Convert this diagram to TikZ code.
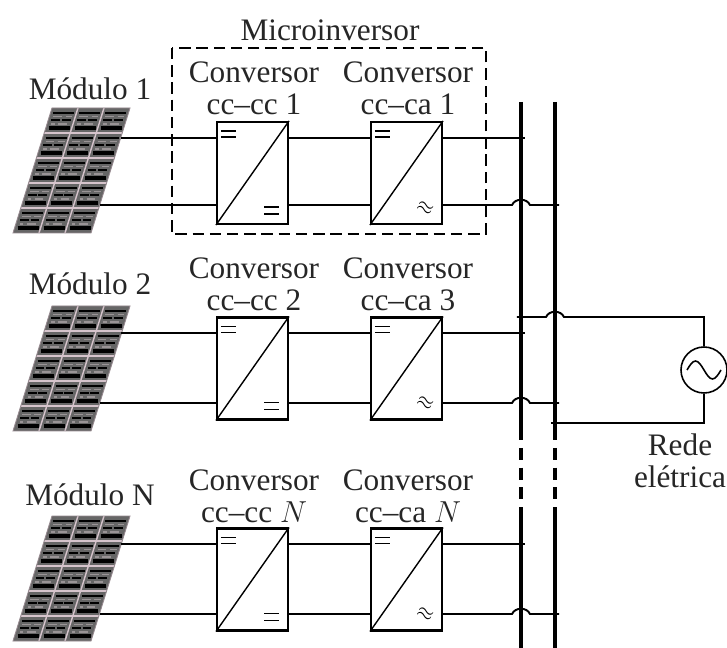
\documentclass[tikz,border=0pt]{standalone}
\usepackage{fontspec}
\setmainfont{Liberation Serif}
\usepackage{tikz}
\definecolor{celula}{HTML}{D6C4CC}
\tikzset{
  rotulo/.style={font=\fontsize{17.8}{18}\selectfont, text=black!85, inner sep=0pt, align=center},
  fio/.style={line width=1.1pt},
  barra/.style={line width=2.3pt},
  conv/.style={draw, line width=1.2pt, minimum width=1.42cm, minimum height=2.04cm, inner sep=0pt},
  fonte/.style={draw, circle, line width=0.9pt, minimum size=0.92cm, inner sep=0pt, fill=white},
  tijolo/.style={gray!70!celula, line width=.8pt},
}
\begin{document}
\begin{tikzpicture}[x=0.02cm, y=-0.02cm, >=stealth]
  \path[use as bounding box, fill=white] (0,0) rectangle (727,648);
  % barramentos
  \coordinate (b1) at (521,102);
  \coordinate (b2) at (555,102);
  \coordinate (b1q) at (521,440);
  \coordinate (b2q) at (555,440);
  \coordinate (b1r) at (521,508);
  \coordinate (b2r) at (555,508);
  \coordinate (b1f) at (521,648);
  \coordinate (b2f) at (555,648);
  % modulos, conversores e fios
  \foreach \i/\ctxt/\atxt/\yp/\yc/\ya/\yb/\yl/\ym in {
      1/1/1/108/173/138/205/72/89,
      2/2/3/306/368.5/333/403/268/284,
      3/$N$/$N$/516/579.5/544/614/480/495} {
    \begin{scope}[shift={(52,\yp)}, xslant=.312]
      \fill[black!60] (0,0) rectangle (78,125);
      \foreach \c in {0,1,2} \foreach \r in {0,...,4} {
        \draw[black, line width=1.7pt] (\c*26+3,\r*25+5) -- (\c*26+24,\r*25+5);
        \draw[black, line width=1.7pt, dash pattern=on 5pt off 1pt] (\c*26+3,\r*25+12) -- (\c*26+24,\r*25+12);
        \draw[black, line width=1.9pt] (\c*26+3,\r*25+20) -- (\c*26+24,\r*25+20);
        \draw[tijolo, dash pattern=on 5pt off 2pt] (\c*26+4,\r*25+8.5) -- (\c*26+23,\r*25+8.5);
        \draw[tijolo, dash pattern=on 2pt off 2pt on 5pt off 2pt] (\c*26+4,\r*25+16) -- (\c*26+23,\r*25+16);
      }
      \foreach \c in {26,52} \draw[celula, line width=.8pt] (\c,0) -- (\c,125);
      \foreach \r in {25,50,75,100} \draw[celula, line width=.8pt] (0,\r) -- (78,\r);
      \draw[celula!70!black, line width=.5pt] (0,0) rectangle (78,125);
    \end{scope}
    \coordinate (m\i a) at (121,\ya);
    \coordinate (m\i b) at (100,\yb);
    \node[rotulo] (mod\i) at (90,\ym) {Módulo \ifnum\i=3 N\else\i\fi};
    \node[conv] (cc\i) at (252.5,\yc) {};
    \node[conv] (ca\i) at (406.5,\yc) {};
    \node[rotulo] (tcc\i) at (254,\yl+16) {Conversor\\[0pt]cc–cc \ctxt};
    \node[rotulo] (tca\i) at (408,\yl+16) {Conversor\\[0pt]cc–ca \atxt};
    \draw[line width=.8pt] (cc\i.south west) -- (cc\i.north east);
    \draw[line width=.8pt] (ca\i.south west) -- (ca\i.north east);
    % simbolos cc e ca
    \draw[line width=.9pt] ([shift={(5,10)}]cc\i.north west) -- ++(15,0) ([shift={(5,16)}]cc\i.north west) -- ++(15,0);
    \draw[line width=.9pt] ([shift={(5,10)}]ca\i.north west) -- ++(15,0) ([shift={(5,16)}]ca\i.north west) -- ++(15,0);
    \draw[line width=.9pt] ([shift={(-25,-18)}]cc\i.south east) -- ++(15,0) ([shift={(-25,-11)}]cc\i.south east) -- ++(15,0);
    \node[inner sep=0pt, rotate=-25, text=black, scale=1.2] (ap\i) at ([shift={(-18,-17)}]ca\i.south east) {$\approx$};
    % fios
    \draw[fio] (m\i a) -- (cc\i.west |- m\i a) (cc\i.east |- m\i a) -- (ca\i.west |- m\i a);
    \draw[fio] (m\i b) -- (cc\i.west |- m\i b) (cc\i.east |- m\i b) -- (ca\i.west |- m\i b);
    \draw[fio] (ca\i.east |- m\i a) -- ([xshift=2.3pt]b1 |- m\i a);
    \draw[fio] (ca\i.east |- m\i b) -- ([xshift=-5.1pt]b1 |- m\i b)
      .. controls ([shift={(-6,-7)}]b1 |- m\i b) and ([shift={(6,-7)}]b1 |- m\i b) .. ([xshift=5.1pt]b1 |- m\i b)
      -- ([xshift=2.3pt]b2 |- m\i b);
  }
  % microinversor
  \draw[line width=1pt, dash pattern=on 6.5pt off 3.3pt] (172,48) rectangle (486,234);
  \node[rotulo] (micro) at (330,30) {Microinversor};
  % rede
  \node[fonte] (rede) at (704,370) {};
  \draw[line width=.9pt, shift={(rede.center)}] (-17,0) sin (-8.5,-9) cos (0,0) sin (8.5,9) cos (17,0);
  \coordinate (r1) at (704,317);
  \coordinate (r2) at (704,423);
  \draw[fio] ([xshift=-2.3pt]b1 |- r1) -- ([xshift=-5.1pt]b2 |- r1)
    .. controls ([shift={(-6,-7)}]b2 |- r1) and ([shift={(6,-7)}]b2 |- r1) .. ([xshift=5.1pt]b2 |- r1)
    -- (r1) -- (rede.north);
  \draw[fio] ([xshift=-2.3pt]b2 |- r2) -- (r2) -- (rede.south);
  \node[rotulo] (trede) at (680,461) {Rede\\[0pt]elétrica};
  % barras por cima dos fios
  \draw[barra] (b1) -- (b1q) (b2) -- (b2q) (b1r) -- (b1f) (b2r) -- (b2f);
  \draw[barra, dash pattern=on 6.8pt off 4.4pt] (521,448) -- (b1r);
  \draw[barra, dash pattern=on 6.8pt off 4.4pt] (555,448) -- (b2r);
\end{tikzpicture}
\end{document}
